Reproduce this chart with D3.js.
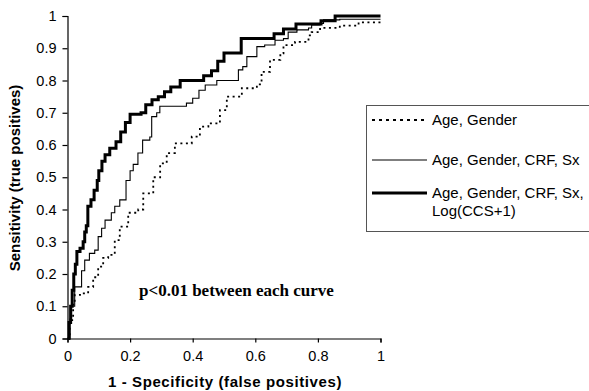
<!DOCTYPE html>
<html>
<head>
<meta charset="utf-8">
<script src="https://cdn.jsdelivr.net/npm/d3@7"></script>
<style>
  body { margin: 0; background: #fff; }
  svg { display: block; }
</style>
</head>
<body>
<script>
const w = 589;
const h = 391;

// ROC curve points (1 - specificity, sensitivity)
const ageGenderX = [0, 0.007, 0.018, 0.023, 0.04, 0.066, 0.082, 0.098, 0.114, 0.13, 0.151, 0.167, 0.194, 0.226, 0.242, 0.274, 0.296, 0.317, 0.343, 0.397, 0.423, 0.45, 0.487, 0.509, 0.557, 0.605, 0.62, 0.647, 0.68, 0.69, 0.727, 0.77, 0.78, 0.807, 0.87, 0.93, 1.0];
const ageGenderY = [0, 0.057, 0.11, 0.135, 0.14, 0.16, 0.19, 0.223, 0.25, 0.259, 0.305, 0.347, 0.39, 0.40, 0.45, 0.50, 0.543, 0.575, 0.605, 0.626, 0.657, 0.667, 0.708, 0.75, 0.776, 0.788, 0.827, 0.864, 0.884, 0.91, 0.92, 0.94, 0.95, 0.963, 0.97, 0.98, 0.985];

const crfX = [0, 0.008, 0.013, 0.023, 0.045, 0.055, 0.07, 0.087, 0.098, 0.109, 0.12, 0.14, 0.151, 0.167, 0.187, 0.2, 0.21, 0.225, 0.24, 0.263, 0.269, 0.285, 0.295, 0.38, 0.40, 0.42, 0.44, 0.477, 0.546, 0.56, 0.573, 0.605, 0.63, 0.663, 0.69, 0.705, 0.733, 0.77, 0.78, 0.807, 0.818, 0.87, 1.0];
const crfY = [0, 0.06, 0.1, 0.16, 0.21, 0.243, 0.264, 0.274, 0.316, 0.342, 0.367, 0.39, 0.41, 0.43, 0.49, 0.52, 0.54, 0.575, 0.615, 0.625, 0.688, 0.70, 0.72, 0.73, 0.745, 0.77, 0.786, 0.80, 0.833, 0.843, 0.874, 0.905, 0.91, 0.925, 0.93, 0.95, 0.957, 0.963, 0.972, 0.977, 0.988, 0.99, 0.99];

const ccsX = [0, 0.005, 0.01, 0.015, 0.02, 0.025, 0.03, 0.04, 0.05, 0.055, 0.06, 0.065, 0.075, 0.085, 0.095, 0.1, 0.11, 0.12, 0.135, 0.155, 0.17, 0.185, 0.2, 0.235, 0.25, 0.27, 0.29, 0.31, 0.33, 0.36, 0.435, 0.46, 0.48, 0.5, 0.555, 0.66, 0.69, 0.73, 0.81, 0.855, 1.0];
const ccsY = [0, 0.05, 0.1, 0.15, 0.2, 0.23, 0.27, 0.28, 0.3, 0.33, 0.35, 0.41, 0.43, 0.46, 0.49, 0.52, 0.55, 0.57, 0.59, 0.61, 0.64, 0.67, 0.695, 0.70, 0.725, 0.74, 0.75, 0.765, 0.78, 0.80, 0.815, 0.83, 0.86, 0.885, 0.93, 0.945, 0.96, 0.975, 0.985, 1.0, 1.0];

const xTicks = [0, 0.2, 0.4, 0.6, 0.8, 1];
const yTicks = [0, 0.1, 0.2, 0.3, 0.4, 0.5, 0.6, 0.7, 0.8, 0.9, 1];

const seriesNames = ['Age, Gender', 'Age, Gender, CRF, Sx', 'Age, Gender, CRF, Sx, Log(CCS+1)'];

const series = [
  {name: seriesNames[0], xs: ageGenderX, ys: ageGenderY, width: 1.8, dash: '2,3.5'},
  {name: seriesNames[1], xs: crfX, ys: crfY, width: 1.1, dash: null},
  {name: seriesNames[2], xs: ccsX, ys: ccsY, width: 3, dash: null}
];

const sans = 'Liberation Sans, Arial, sans-serif';

const x = d3.scaleLinear().domain([0, 1]).range([67.5, 380.5]);
const y = d3.scaleLinear().domain([0, 1]).range([338.5, 16]);

let svg = d3.select('body')
            .append('svg')
            .attr('width', w)
            .attr('height', h);

// axes
svg.append('g')
  .attr('transform', `translate(0,${y(0)})`)
  .call(d3.axisBottom(x).tickValues(xTicks).tickFormat(d3.format('')).tickSizeOuter(0).tickSize(4).tickPadding(8))
  .call(g => g.selectAll('text').attr('font-size', 14.5).attr('font-family', sans).attr('fill', '#000'))
  .call(g => g.selectAll('line,path').attr('stroke', '#000').attr('stroke-width', 1.2));

svg.append('g')
  .attr('transform', `translate(${x(0)},0)`)
  .call(d3.axisLeft(y).tickValues(yTicks).tickFormat(d3.format('')).tickSizeOuter(0).tickSize(5).tickPadding(6))
  .call(g => g.selectAll('text').attr('font-size', 14.5).attr('font-family', sans).attr('fill', '#000'))
  .call(g => g.selectAll('line,path').attr('stroke', '#000').attr('stroke-width', 1.2));

// curves
const line = d3.line()
  .x(d => x(d[0]))
  .y(d => y(d[1]))
  .curve(d3.curveStepAfter);

svg.selectAll('path.roc')
  .data(series)
  .enter()
  .append('path')
  .attr('class', 'roc')
  .attr('d', s => line(s.xs.map((v, i) => [v, s.ys[i]])))
  .attr('fill', 'none')
  .attr('stroke', '#000')
  .attr('stroke-width', s => s.width)
  .attr('stroke-dasharray', s => s.dash);

// axis titles
svg.append('text')
  .attr('x', 225)
  .attr('y', 387)
  .attr('text-anchor', 'middle')
  .attr('font-family', sans)
  .attr('font-weight', 'bold')
  .attr('font-size', 15)
  .attr('letter-spacing', 0.6)
  .text('1 - Specificity (false positives)');

svg.append('text')
  .attr('transform', 'translate(20,178) rotate(-90)')
  .attr('text-anchor', 'middle')
  .attr('font-family', sans)
  .attr('font-weight', 'bold')
  .attr('font-size', 15)
  .text('Sensitivity (true positives)');

// annotation
svg.append('text')
  .attr('x', 139)
  .attr('y', 296)
  .attr('font-family', 'Liberation Serif, Times New Roman, serif')
  .attr('font-weight', 'bold')
  .attr('font-size', 17)
  .text('p<0.01 between each curve');

// legend
const lg = svg.append('g');
lg.append('rect')
  .attr('x', 366.5)
  .attr('y', 105.5)
  .attr('width', 240)
  .attr('height', 126)
  .attr('fill', '#fff')
  .attr('stroke', '#555')
  .attr('stroke-width', 1);

const legendY = [120, 160, 193];
lg.selectAll('line.key')
  .data(series)
  .enter()
  .append('line')
  .attr('class', 'key')
  .attr('x1', 372)
  .attr('x2', 427)
  .attr('y1', (d, i) => legendY[i])
  .attr('y2', (d, i) => legendY[i])
  .attr('stroke', '#000')
  .attr('stroke-width', s => s.width)
  .attr('stroke-dasharray', s => s.dash ? '3,4' : null);

const legendLines = [['Age, Gender'], ['Age, Gender, CRF, Sx'], ['Age, Gender, CRF, Sx,', 'Log(CCS+1)']];
lg.selectAll('text.key')
  .data(legendLines)
  .enter()
  .append('text')
  .attr('class', 'key')
  .attr('x', 432)
  .attr('y', (d, i) => legendY[i] + 5)
  .attr('font-family', sans)
  .attr('font-size', 15)
  .selectAll('tspan')
  .data(d => d)
  .enter()
  .append('tspan')
  .attr('x', 432)
  .attr('dy', (d, i) => i === 0 ? 0 : 18)
  .text(d => d);
</script>
</body>
</html>
